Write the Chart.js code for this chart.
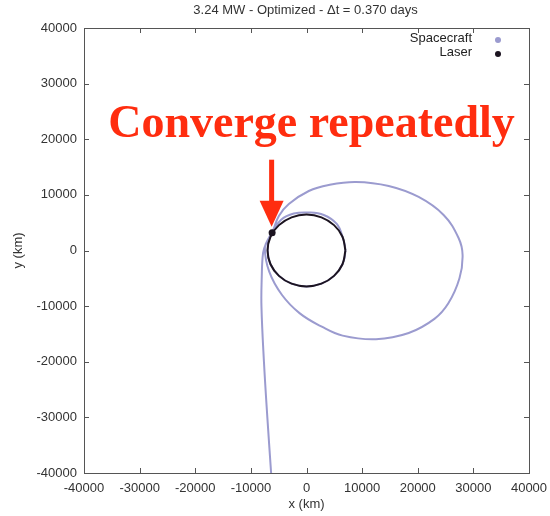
<!DOCTYPE html>
<html>
<head>
<meta charset="utf-8">
<script src="https://cdn.jsdelivr.net/npm/chart.js@4.4.1/dist/chart.umd.min.js"></script>
<style>
    html, body { margin: 0; padding: 0; background: #ffffff; }
    #wrap { width: 550px; height: 516px; }
</style>
</head>
<body>
<div id="wrap"><canvas id="orbitChart"></canvas></div>
<script>
// Trajectories (km)
const craftX = [-6360, -7040, -7650, -8100, -8050, -7800, -7220, -6180,
    -4970, -3180, 410, 4000, 8850, 14780, 20160, 24650, 27340, 28060, 27500, 25500,
    23000, 18370, 12500, 6500, 2750, -1200, -4400, -6700, -7490, -6770, -6180,
    -4610, -2280, 410, 3100, 5440, 6470, 7000, 6470, 4950, 2680, 0, -2680, -4950, -6470, -7000, -6770, -6180];
const craftY = [-40000, -30000, -20000, -10000, -5000, -400, 1350, 3200,
    6200, 8360, 10700, 11780, 12320, 11600, 9620, 6380, 2250, -800, -5000, -9500,
    -12300, -14840, -15950, -15300, -13700, -11300, -8000, -3800, 450, 2250, 3200,
    5490, 6650, 6830, 6380, 4770, 2470, 0, -2470, -4560, -5960, -6450, -5960, -4560, -2470, 0, 1890, 3200];

const laserX = [7000, 6470, 4950, 2680, 0, -2680, -4950, -6470, -7000,
    -6470, -4950, -2680, 0, 2680, 4950, 6470, 7000];
const laserY = [0, 2470, 4560, 5960, 6450, 5960, 4560, 2470, 0,
    -2470, -4560, -5960, -6450, -5960, -4560, -2470, 0];

// Current positions
const craftNow = [-6180, 3200];
const laserNow = [-6180, 3200];

const xTicks = [-40000, -30000, -20000, -10000, 0, 10000, 20000, 30000, 40000];
const yTicks = [-40000, -30000, -20000, -10000, 0, 10000, 20000, 30000, 40000];

const TITLE = '3.24 MW - Optimized - \u0394t = 0.370 days';
const CRAFT_COLOR = '#9b9bcf';
const LASER_COLOR = '#1c1420';
const FONT = "'Liberation Sans', Arial, sans-serif";

function toPoints(xs, ys) {
    return xs.map((x, i) => ({ x: x, y: ys[i] }));
}

// Frame with inward ticks on all four sides, title centred over the plot
const framePlugin = {
    id: 'frame',
    afterDatasetsDraw(chart) {
        const { ctx, chartArea: a, scales } = chart;
        ctx.save();
        ctx.strokeStyle = '#555555';
        ctx.lineWidth = 1;
        ctx.strokeRect(a.left + 0.5, a.top + 0.5, a.right - a.left, a.bottom - a.top);
        ctx.beginPath();
        xTicks.forEach(v => {
            const px = Math.round(scales.x.getPixelForValue(v)) + 0.5;
            ctx.moveTo(px, a.bottom); ctx.lineTo(px, a.bottom - 5);
            ctx.moveTo(px, a.top); ctx.lineTo(px, a.top + 5);
        });
        yTicks.forEach(v => {
            const py = Math.round(scales.y.getPixelForValue(v)) + 0.5;
            ctx.moveTo(a.left, py); ctx.lineTo(a.left + 5, py);
            ctx.moveTo(a.right, py); ctx.lineTo(a.right - 5, py);
        });
        ctx.stroke();

        ctx.fillStyle = '#333333';
        ctx.font = '13px ' + FONT;
        ctx.textAlign = 'center';
        ctx.textBaseline = 'middle';
        ctx.fillText(TITLE, (a.left + a.right) / 2 - 1, 10);
        ctx.restore();
    }
};

// Gnuplot-style key: text right-aligned, marker on the right
const keyPlugin = {
    id: 'key',
    afterDraw(chart) {
        const { ctx, chartArea: a } = chart;
        const items = [['Spacecraft', CRAFT_COLOR], ['Laser', LASER_COLOR]];
        ctx.save();
        ctx.font = '13px ' + FONT;
        ctx.textAlign = 'right';
        ctx.textBaseline = 'middle';
        items.forEach((it, i) => {
            const y = a.top + 10 + i * 14;
            ctx.fillStyle = '#222222';
            ctx.fillText(it[0], a.right - 57, y);
            ctx.fillStyle = it[1];
            ctx.beginPath();
            ctx.arc(a.right - 31, y + 2, 3, 0, Math.PI * 2);
            ctx.fill();
        });
        ctx.restore();
    }
};

// Red annotation: text and arrow pointing at the laser position
const notePlugin = {
    id: 'note',
    afterDraw(chart) {
        const { ctx, scales } = chart;
        const tipX = scales.x.getPixelForValue(laserNow[0]) - 0.5;
        const tipY = scales.y.getPixelForValue(laserNow[1]) - 6;
        ctx.save();
        ctx.fillStyle = '#ff2d0f';
        ctx.font = 'bold 46px "Liberation Serif", "Times New Roman", serif';
        ctx.textAlign = 'center';
        ctx.textBaseline = 'alphabetic';
        ctx.fillText('Converge repeatedly', 311.5, 137);
        ctx.fillRect(tipX - 2.5, tipY - 67, 5, 42);
        ctx.beginPath();
        ctx.moveTo(tipX - 12, tipY - 26);
        ctx.lineTo(tipX + 12, tipY - 26);
        ctx.lineTo(tipX, tipY);
        ctx.closePath();
        ctx.fill();
        ctx.restore();
    }
};

function createOrbitChart() {
    const ctx = document.getElementById('orbitChart');
    if (!ctx) return null;

    return new Chart(ctx, {
        type: 'scatter',
        data: {
            datasets: [
                {
                    label: 'Laser',
                    data: [{ x: laserNow[0], y: laserNow[1] }],
                    pointRadius: 3.5,
                    pointBackgroundColor: LASER_COLOR,
                    pointBorderWidth: 0,
                    showLine: false
                },
                {
                    label: 'Laser orbit',
                    data: toPoints(laserX, laserY),
                    showLine: true,
                    borderColor: LASER_COLOR,
                    borderWidth: 2,
                    tension: 0.4,
                    pointRadius: 0
                },
                {
                    label: 'Spacecraft',
                    data: [{ x: craftNow[0], y: craftNow[1] }],
                    pointRadius: 3,
                    pointBackgroundColor: CRAFT_COLOR,
                    pointBorderWidth: 0,
                    showLine: false
                },
                {
                    label: 'Spacecraft path',
                    data: toPoints(craftX, craftY),
                    showLine: true,
                    borderColor: CRAFT_COLOR,
                    borderWidth: 2,
                    tension: 0.4,
                    pointRadius: 0
                }
            ]
        },
        options: {
            responsive: true,
            maintainAspectRatio: false,
            animation: false,
            layout: {
                padding: { top: 28, right: 21, bottom: 0, left: 0 }
            },
            plugins: {
                legend: { display: false },
                tooltip: { enabled: false },
                title: { display: false }
            },
            scales: {
                x: {
                    type: 'linear',
                    min: -40000,
                    max: 40000,
                    afterFit: function(scale) {
                        scale.height = 43;
                        scale.paddingLeft = 0;
                        scale.paddingRight = 0;
                    },
                    afterBuildTicks: function(scale) { scale.ticks = xTicks.map(v => ({ value: v })); },
                    grid: { display: false, drawTicks: false },
                    border: { display: false },
                    ticks: {
                        color: '#333333',
                        padding: 8,
                        maxRotation: 0,
                        font: { family: FONT, size: 13 },
                        callback: function(value) { return String(value); }
                    },
                    title: {
                        display: true,
                        text: 'x (km)',
                        color: '#333333',
                        font: { family: FONT, size: 13 },
                        padding: { top: 0, bottom: 4 }
                    }
                },
                y: {
                    type: 'linear',
                    min: -40000,
                    max: 40000,
                    afterFit: function(scale) {
                        scale.width = 84;
                        scale.paddingTop = 0;
                        scale.paddingBottom = 0;
                    },
                    afterBuildTicks: function(scale) { scale.ticks = yTicks.map(v => ({ value: v })); },
                    grid: { display: false, drawTicks: false },
                    border: { display: false },
                    ticks: {
                        color: '#333333',
                        padding: 7,
                        font: { family: FONT, size: 13 },
                        callback: function(value) { return String(value); }
                    },
                    title: {
                        display: true,
                        text: 'y (km)',
                        color: '#333333',
                        font: { family: FONT, size: 13 },
                        padding: { top: 11, bottom: 0 }
                    }
                }
            }
        },
        plugins: [framePlugin, keyPlugin, notePlugin]
    });
}

createOrbitChart();
</script>
</body>
</html>
